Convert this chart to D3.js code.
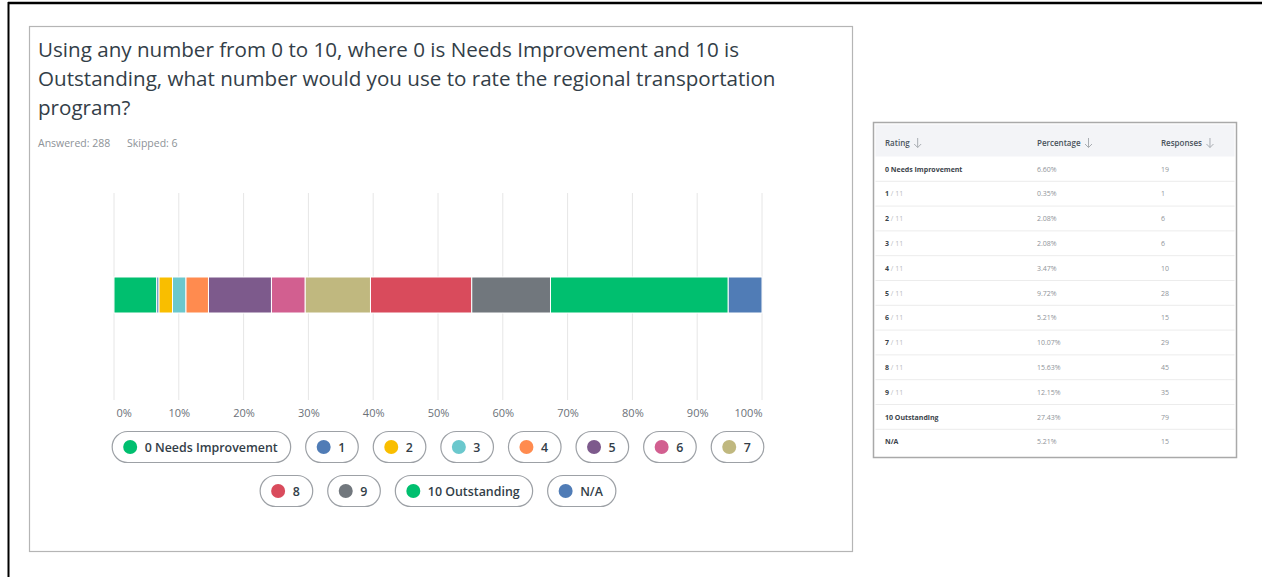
<!DOCTYPE html>
<html>
<head>
<meta charset="utf-8">
<script src="https://cdn.jsdelivr.net/npm/d3@7"></script>
<style>
  html, body { margin: 0; padding: 0; background: #fff; }
  svg { display: block; font-family: "Open Sans", "Noto Sans", sans-serif; }
</style>
</head>
<body>
<svg id="chart" width="1262" height="577"></svg>
<script>
// ---- data ----
const ratings = ['0 Needs Improvement', '1', '2', '3', '4', '5', '6', '7', '8', '9', '10 Outstanding', 'N/A'];
const percentages = [6.60, 0.35, 2.08, 2.08, 3.47, 9.72, 5.21, 10.07, 15.63, 12.15, 27.43, 5.21];
const responses = [19, 1, 6, 6, 10, 28, 15, 29, 45, 35, 79, 15];
const colors = ['#00bf6f', '#507cb6', '#f9be00', '#6bc8cd', '#ff8b4f', '#7d5a8c',
                '#d25f90', '#c0b87f', '#d94b5c', '#71777d', '#00bf6f', '#507cb6'];
const xTicks = [0, 10, 20, 30, 40, 50, 60, 70, 80, 90, 100];
const tableHeaders = ['Rating', 'Percentage', 'Responses'];
const answered = 288, skipped = 6;
const titleLines = [
  'Using any number from 0 to 10, where 0 is Needs Improvement and 10 is',
  'Outstanding, what number would you use to rate the regional transportation',
  'program?'
];
const legendRows = [[0, 1, 2, 3, 4, 5, 6, 7], [8, 9, 10, 11]];

const svg = d3.select('#chart');
const ink = '#333e48';

// outer black frame (top and left edges)
svg.append('line').attr('x1', 8).attr('x2', 1262).attr('y1', 3).attr('y2', 3)
  .attr('stroke', '#000').attr('stroke-width', 2.5);
svg.append('line').attr('x1', 8.5).attr('x2', 8.5).attr('y1', 2).attr('y2', 577)
  .attr('stroke', '#000').attr('stroke-width', 2);

// chart panel
svg.append('rect').attr('x', 29.5).attr('y', 26.5).attr('width', 823).attr('height', 525)
  .attr('fill', '#fff').attr('stroke', '#b5b5b5').attr('stroke-width', 1.2);

svg.append('g').selectAll('text').data(titleLines).join('text')
  .attr('x', 38).attr('y', (d, i) => 57 + i * 29)
  .attr('font-size', 20.6).attr('fill', ink)
  .text(d => d);

const meta = svg.append('text').attr('y', 147).attr('font-size', 10.5).attr('fill', '#8d9297');
meta.append('tspan').attr('x', 38).text(`Answered: ${answered}`);
meta.append('tspan').attr('x', 127).text(`Skipped: ${skipped}`);

// ---- stacked bar ----
const x = d3.scaleLinear().domain([0, 100]).range([114, 762]);
const gridTop = 193, gridBottom = 400, barY = 277, barH = 36;

svg.append('g').selectAll('line').data(xTicks).join('line')
  .attr('x1', d => x(d)).attr('x2', d => x(d))
  .attr('y1', gridTop).attr('y2', gridBottom)
  .attr('stroke', '#e6e6e6').attr('stroke-width', 1);

const stacked = [];
let acc = 0;
percentages.forEach((p, i) => { stacked.push({ start: acc, end: acc + p, color: colors[i] }); acc += p; });

svg.append('g').selectAll('rect').data(stacked).join('rect')
  .attr('x', d => x(d.start)).attr('y', barY)
  .attr('width', d => Math.max(0, x(d.end) - x(d.start)))
  .attr('height', barH)
  .attr('fill', d => d.color)
  .attr('stroke', '#fff').attr('stroke-width', 1);

const axis = svg.append('g').attr('transform', `translate(0,${gridBottom})`)
  .call(d3.axisBottom(x).tickValues(xTicks).tickSize(0).tickPadding(9).tickFormat(d => d + '%'));
axis.select('.domain').remove();
axis.selectAll('text')
  .attr('font-family', '"Open Sans", sans-serif').attr('font-size', 11).attr('fill', '#6b7178')
  .attr('text-anchor', d => d === 0 ? 'start' : d === 100 ? 'end' : 'middle')
  .attr('dx', d => d === 0 ? 2 : 0);

// ---- legend pills ----
const rowY = [447, 491];
const legendFont = 12.4;
legendRows.forEach((row, r) => {
  const g = svg.append('g');
  const items = row.map(i => {
    const t = g.append('text').attr('font-size', legendFont).attr('font-weight', 600).text(ratings[i]);
    const w = t.node().getComputedTextLength();
    t.remove();
    return { i, w: w + 45.5 };
  });
  const gap = 15;
  const total = d3.sum(items, d => d.w) + gap * (items.length - 1);
  let cx = 437.5 - total / 2;
  items.forEach(it => {
    const pg = g.append('g').attr('transform', `translate(${cx},${rowY[r]})`);
    pg.append('rect').attr('x', 0.5).attr('y', -15.5).attr('width', it.w).attr('height', 31)
      .attr('rx', 15.5).attr('fill', '#fff').attr('stroke', '#9da1a6').attr('stroke-width', 1.2);
    pg.append('circle').attr('cx', 18.5).attr('cy', 0).attr('r', 7).attr('fill', colors[it.i]);
    pg.append('text').attr('x', 33).attr('y', 4.5).attr('font-size', legendFont).attr('font-weight', 600)
      .attr('fill', ink).text(ratings[it.i]);
    cx += it.w + gap;
  });
});

// ---- table panel ----
const tx = 873.5, ty = 122.5, tw = 363, th = 335;
svg.append('rect').attr('x', tx).attr('y', ty).attr('width', tw).attr('height', th)
  .attr('fill', '#fff').attr('stroke', '#a9a9a9').attr('stroke-width', 1.5);
svg.append('rect').attr('x', tx + 2).attr('y', ty + 2).attr('width', tw - 4).attr('height', 32)
  .attr('fill', '#f3f4f7');

const colX = [885, 1037, 1161];
const headG = svg.append('g');
tableHeaders.forEach((h, i) => {
  const t = headG.append('text').attr('x', colX[i]).attr('y', 146).attr('font-size', 8)
    .attr('font-weight', 600).attr('fill', '#4a535b').text(h);
  const w = t.node().getComputedTextLength();
  // sort arrow
  const ax = colX[i] + w + 8;
  headG.append('path')
    .attr('d', `M${ax},${138} V${147.5} M${ax - 3.5},${144} L${ax},${147.5} L${ax + 3.5},${144}`)
    .attr('fill', 'none').attr('stroke', '#a9adb2').attr('stroke-width', 1);
});

const rowH = 24.8, row0 = 156.5;
const y = d3.scaleBand().domain(d3.range(ratings.length)).range([row0, row0 + rowH * ratings.length]);

const rows = svg.append('g').selectAll('g').data(ratings).join('g')
  .attr('transform', (d, i) => `translate(0,${y(i)})`);
rows.filter((d, i) => i > 0).append('line')
  .attr('x1', tx + 2).attr('x2', tx + tw - 2).attr('y1', 0).attr('y2', 0)
  .attr('stroke', '#ececec').attr('stroke-width', 1);

const label = rows.append('text').attr('x', colX[0]).attr('y', 15).attr('font-size', 7);
label.append('tspan').attr('font-weight', 700).attr('fill', '#3b434a').text(d => d);
label.filter(d => /^\d+$/.test(d)).append('tspan').attr('fill', '#b8bcc0')
  .text(` / ${ratings.length - 1}`);

rows.append('text').attr('x', colX[1]).attr('y', 15).attr('font-size', 7).attr('fill', '#8f9499')
  .text((d, i) => percentages[i].toFixed(2) + '%');
rows.append('text').attr('x', colX[2]).attr('y', 15).attr('font-size', 7).attr('fill', '#8f9499')
  .text((d, i) => responses[i]);
</script>
</body>
</html>
